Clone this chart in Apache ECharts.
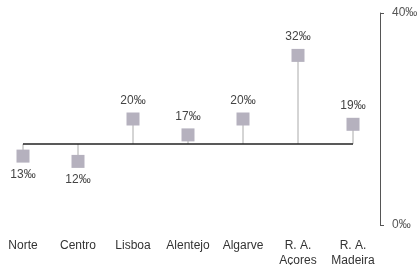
<!DOCTYPE html>
<html><head><meta charset="utf-8">
<script src="https://cdn.jsdelivr.net/npm/echarts@6/dist/echarts.min.js"></script>
<style>html,body{margin:0;padding:0;background:#fff}#c{width:420px;height:265px}</style>
</head><body><div id="c"></div>
<script>
var categories = ['Norte', 'Centro', 'Lisboa', 'Alentejo', 'Algarve', 'R. A.\nAçores', 'R. A.\nMadeira'];
var values = [13, 12, 20, 17, 20, 32, 19];
var baseline = 15.3;
var yTicks = [0, 40];

var chart = echarts.init(document.getElementById('c'));
var font = 'Liberation Sans, Arial, sans-serif';
chart.setOption({
  animation: false,
  grid: {left: 23, right: 67, top: 13, bottom: 40, containLabel: false, outerBoundsMode: 'none'},
  xAxis: {
    type: 'category', data: categories, boundaryGap: false,
    axisLine: {show: false}, axisTick: {show: false},
    axisLabel: {color: '#333', fontSize: 12, fontFamily: font, margin: 13, lineHeight: 15, interval: 0}
  },
  yAxis: {
    type: 'value', position: 'right', offset: 27, min: yTicks[0], max: yTicks[1], interval: 40,
    splitLine: {show: false},
    axisLine: {show: true, lineStyle: {color: '#555', width: 1}},
    axisTick: {show: true, inside: false, length: 4, lineStyle: {color: '#555'}},
    axisLabel: {color: '#555', fontSize: 12, fontFamily: font, margin: 12, formatter: '{value}‰'}
  },
  series: [
    {
      type: 'custom',
      data: values.map(function (v, i) { return [i, v]; }),
      renderItem: function (params, api) {
        var p0 = api.coord([api.value(0), baseline]);
        var p1 = api.coord([api.value(0), api.value(1)]);
        return {type: 'line', shape: {x1: p0[0], y1: p0[1], x2: p1[0], y2: p1[1]},
          style: {stroke: '#aaa', lineWidth: 1}};
      },
      z: 1,
      markLine: {
        silent: true, symbol: 'none', label: {show: false},
        lineStyle: {color: '#222', width: 1.5, type: 'solid'},
        data: [{yAxis: baseline}]
      }
    },
    {
      type: 'scatter', symbol: 'rect', symbolSize: 13, z: 3,
      itemStyle: {color: '#b5b1be', opacity: 1},
      data: values.map(function (v, i) {
        return {value: [i, v], label: {position: v >= baseline ? 'top' : 'bottom'}};
      }),
      label: {
        show: true, color: '#444', fontSize: 12, fontFamily: font, distance: 6,
        formatter: function (p) { return p.value[1] + '‰'; }
      }
    }
  ]
});
</script></body></html>
